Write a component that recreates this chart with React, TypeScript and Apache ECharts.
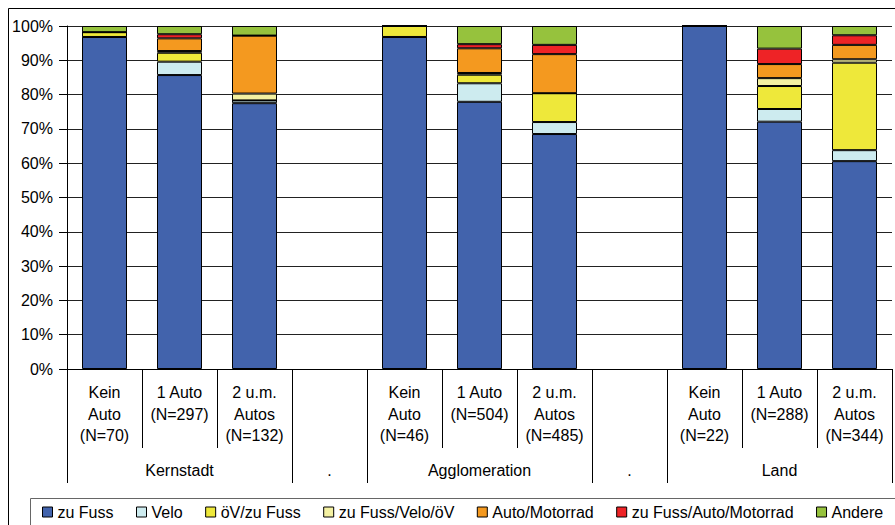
import React, { useEffect, useRef } from "react";
import * as echarts from "echarts";

const categories = [
  "Kein\nAuto\n(N=70)",
  "1 Auto\n(N=297)",
  "2 u.m.\nAutos\n(N=132)",
  "",
  "Kein\nAuto\n(N=46)",
  "1 Auto\n(N=504)",
  "2 u.m.\nAutos\n(N=485)",
  "",
  "Kein\nAuto\n(N=22)",
  "1 Auto\n(N=288)",
  "2 u.m.\nAutos\n(N=344)",
];
const groupLabels = ["", "Kernstadt", "", ".", "", "Agglomeration", "", ".", "", "Land", ""];
const groupBoundaries = [0, 3, 4, 7, 8];
const yTicks = [0, 10, 20, 30, 40, 50, 60, 70, 80, 90, 100];

const seriesNames = [
  "zu Fuss",
  "Velo",
  "öV/zu Fuss",
  "zu Fuss/Velo/öV",
  "Auto/Motorrad",
  "zu Fuss/Auto/Motorrad",
  "Andere",
];
const seriesColors = ["#4263AC", "#CDEBEF", "#EEE83A", "#F4F1A2", "#F4991F", "#EE2326", "#96C23D"];

const zuFuss = [96.8, 85.7, 77.5, "-", 96.8, 77.9, 68.5, "-", 100, 72.1, 60.6];
const velo = [0, 3.9, 0.8, "-", 0, 5.4, 3.5, "-", 0, 3.7, 3.2];
const oevZuFuss = [1.4, 2.6, 0, "-", 3.2, 2.5, 8.4, "-", 0, 6.7, 25.5];
const zuFussVeloOev = [0, 0.5, 2.0, "-", 0, 0.5, 0, "-", 0, 2.3, 1.0];
const autoMotorrad = [0, 3.7, 16.9, "-", 0, 7.2, 11.4, "-", 0, 4.1, 4.2];
const zuFussAutoMotorrad = [0, 1.2, 0, "-", 0, 1.2, 2.7, "-", 0, 4.5, 2.8];
const andere = [1.8, 2.4, 2.8, "-", 0, 5.3, 5.5, "-", 0, 6.6, 2.7];

const seriesData = [zuFuss, velo, oevZuFuss, zuFussVeloOev, autoMotorrad, zuFussAutoMotorrad, andere];

const FONT = "'Liberation Sans', Arial, sans-serif";

export default function App() {
  const ref = useRef<HTMLDivElement>(null);
  useEffect(() => {
    if (!ref.current) return;
    const chart = echarts.init(ref.current, undefined, { renderer: "svg" });
    chart.setOption({
      animation: false,
      textStyle: { fontFamily: FONT },
      grid: { left: 67, right: 3, top: 26, bottom: 156, containLabel: false },
      legend: {
        left: 42,
        top: 504,
        padding: 0,
        itemGap: 22.5,
        itemWidth: 10,
        itemHeight: 10,
        itemStyle: { borderColor: "#000", borderWidth: 1 },
        icon: "rect",
        textStyle: { fontSize: 16, color: "#000", fontFamily: FONT, lineHeight: 16 },
        data: seriesNames,
      },
      xAxis: [
        {
          type: "category",
          data: categories,
          position: "bottom",
          axisLine: { show: true, lineStyle: { color: "#000", width: 1 } },
          axisTick: { show: true, length: 79, interval: 0, lineStyle: { color: "#000", width: 1 } },
          axisLabel: {
            interval: 0,
            margin: 13,
            fontSize: 16,
            lineHeight: 21.5,
            color: "#000",
            fontFamily: FONT,
            align: "center",
          },
        },
        {
          type: "category",
          data: groupLabels,
          position: "bottom",
          offset: 0,
          axisLine: { show: false },
          axisTick: {
            show: true,
            length: 114,
            interval: (index: number) => groupBoundaries.includes(index),
            lineStyle: { color: "#000", width: 1 },
          },
          axisLabel: {
            interval: 0,
            margin: 92,
            fontSize: 16,
            lineHeight: 18,
            color: "#000",
            fontFamily: FONT,
          },
        },
      ],
      yAxis: {
        type: "value",
        min: 0,
        max: 100,
        interval: 10,
        axisLine: { show: true, lineStyle: { color: "#000", width: 1 } },
        axisTick: { show: true, length: 8, lineStyle: { color: "#000", width: 1 } },
        axisLabel: {
          formatter: (v: number) => (yTicks.includes(v) ? v + "%" : ""),
          fontSize: 16,
          color: "#000",
          margin: 14,
          fontFamily: FONT,
        },
        splitLine: { show: true, lineStyle: { color: "#222", width: 1 } },
      },
      series: seriesNames.map((name, i) => ({
        name,
        type: "bar",
        stack: "total",
        xAxisIndex: 0,
        barWidth: "60%",
        data: seriesData[i],
        itemStyle: { color: seriesColors[i], borderColor: "#000", borderWidth: 1 },
      })),
      graphic: [
        {
          type: "rect",
          shape: { x: 8.5, y: 8.5, width: 1200, height: 1200 },
          style: { fill: "none", stroke: "#000", lineWidth: 1 },
          silent: true,
        },
        {
          type: "rect",
          shape: { x: 30.5, y: 498.5, width: 1200, height: 200 },
          style: { fill: "none", stroke: "#666", lineWidth: 1 },
          silent: true,
        },
      ],
    });
    return () => chart.dispose();
  }, []);
  return (
    <div
      ref={ref}
      style={{ position: "fixed", left: 0, top: 0, width: 895, height: 525, background: "#fff" }}
    />
  );
}
